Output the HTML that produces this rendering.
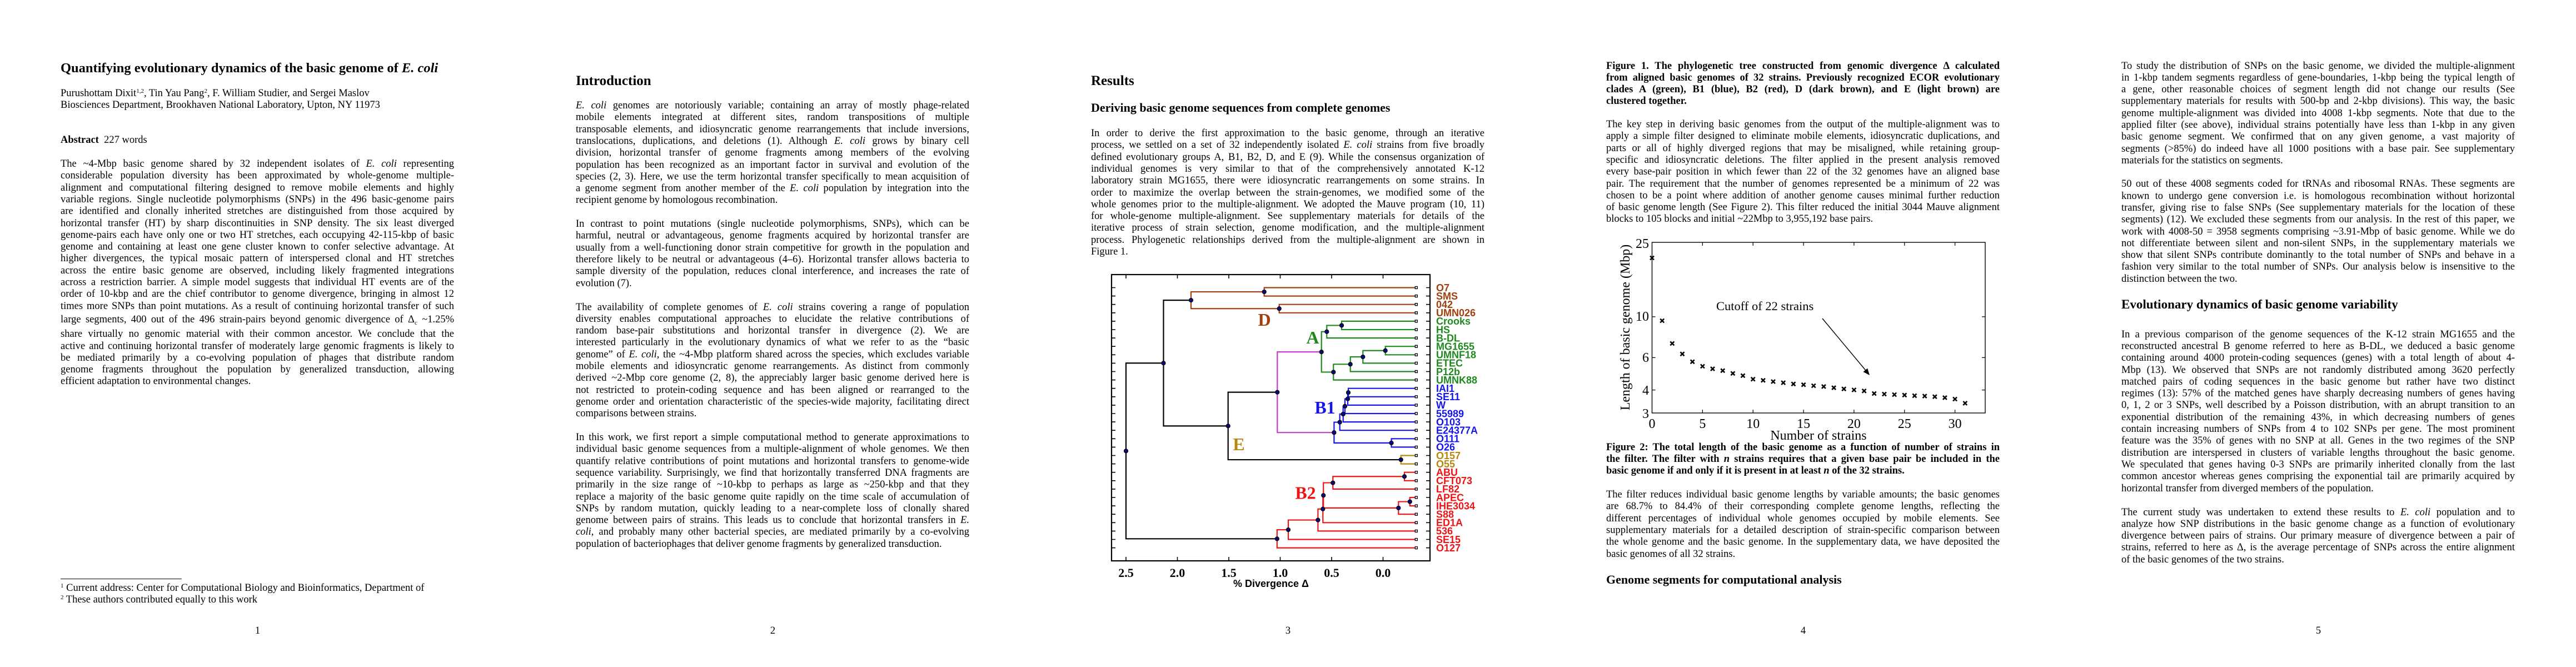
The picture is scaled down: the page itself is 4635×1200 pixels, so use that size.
<!DOCTYPE html>
<html><head><meta charset="utf-8"><style>
body{margin:0;width:4635px;height:1200px;position:relative;background:#fff;overflow:hidden;font-family:"Liberation Serif","DejaVu Serif",serif;color:#000}
.p{position:absolute;width:708px;font-size:18.5px;line-height:21.3px}
.p>div{height:21.3px;overflow:hidden;text-align:justify;text-align-last:justify}
.p>div.e{text-align-last:left;text-align:left}
.b{font-weight:bold}
.h{position:absolute;font-weight:bold;white-space:nowrap}
.pn{position:absolute;width:927px;text-align:center;font-size:18.5px;line-height:21.3px;top:1125px}
sup{font-size:11px;line-height:0;vertical-align:6px}
sub{font-size:11px;line-height:0;vertical-align:-4px}
svg{position:absolute;left:0;top:0}
</style></head><body>

<!-- PAGE 1 -->
<div class="h" style="left:109px;top:108.7px;font-size:24.5px;line-height:28px">Quantifying evolutionary dynamics of the basic genome of <i>E. coli</i></div>
<div class="p" style="left:109px;top:158.1px">
<div class="e">Purushottam Dixit<sup>1,2</sup>, Tin Yau Pang<sup>2</sup>, F. William Studier, and Sergei Maslov</div>
<div class="e">Biosciences Department, Brookhaven National Laboratory, Upton, NY 11973</div>
</div>
<div class="p" style="left:109px;top:242.1px"><div class="e"><b>Abstract</b>&nbsp; 227 words</div></div>
<div class="p" style="left:109px;top:285.1px">
<div>The ~4-Mbp basic genome shared by 32 independent isolates of <i>E. coli</i> representing</div>
<div>considerable population diversity has been approximated by whole-genome multiple-</div>
<div>alignment and computational filtering designed to remove mobile elements and highly</div>
<div>variable regions. Single nucleotide polymorphisms (SNPs) in the 496 basic-genome pairs</div>
<div>are identified and clonally inherited stretches are distinguished from those acquired by</div>
<div>horizontal transfer (HT) by sharp discontinuities in SNP density. The six least diverged</div>
<div>genome-pairs each have only one or two HT stretches, each occupying 42-115-kbp of basic</div>
<div>genome and containing at least one gene cluster known to confer selective advantage. At</div>
<div>higher divergences, the typical mosaic pattern of interspersed clonal and HT stretches</div>
<div>across the entire basic genome are observed, including likely fragmented integrations</div>
<div>across a restriction barrier. A simple model suggests that individual HT events are of the</div>
<div>order of 10-kbp and are the chief contributor to genome divergence, bringing in almost 12</div>
<div>times more SNPs than point mutations. As a result of continuing horizontal transfer of such</div>
<div style="margin-top:2.9px">large segments, 400 out of the 496 strain-pairs beyond genomic divergence of Δ<sub>c</sub> ~1.25%</div>
<div style="margin-top:5.1px">share virtually no genomic material with their common ancestor. We conclude that the</div>
<div>active and continuing horizontal transfer of moderately large genomic fragments is likely to</div>
<div>be mediated primarily by a co-evolving population of phages that distribute random</div>
<div>genome fragments throughout the population by generalized transduction, allowing</div>
<div class="e">efficient adaptation to environmental changes.</div>
</div>
<div style="position:absolute;left:109px;top:1041px;width:218px;height:1px;background:#000"></div>
<div class="p" style="left:109px;top:1048.1px">
<div class="e"><sup>1</sup> Current address: Center for Computational Biology and Bioinformatics, Department of</div>
<div class="e"><sup>2</sup> These authors contributed equally to this work</div>
</div>
<div class="pn" style="left:0">1</div>

<!-- PAGE 2 -->
<div class="h" style="left:1036px;top:130.6px;font-size:25px;line-height:30px">Introduction</div>
<div class="p" style="left:1036px;top:180.1px">
<div><i>E. coli</i> genomes are notoriously variable; containing an array of mostly phage-related</div>
<div>mobile elements integrated at different sites, random transpositions of multiple</div>
<div>transposable elements, and idiosyncratic genome rearrangements that include inversions,</div>
<div>translocations, duplications, and deletions (1). Although <i>E. coli</i> grows by binary cell</div>
<div>division, horizontal transfer of genome fragments among members of the evolving</div>
<div>population has been recognized as an important factor in survival and evolution of the</div>
<div>species (2, 3). Here, we use the term horizontal transfer specifically to mean acquisition of</div>
<div>a genome segment from another member of the <i>E. coli</i> population by integration into the</div>
<div class="e">recipient genome by homologous recombination.</div>
</div>
<div class="p" style="left:1036px;top:393.1px">
<div>In contrast to point mutations (single nucleotide polymorphisms, SNPs), which can be</div>
<div>harmful, neutral or advantageous, genome fragments acquired by horizontal transfer are</div>
<div>usually from a well-functioning donor strain competitive for growth in the population and</div>
<div>therefore likely to be neutral or advantageous (4–6). Horizontal transfer allows bacteria to</div>
<div>sample diversity of the population, reduces clonal interference, and increases the rate of</div>
<div class="e">evolution (7).</div>
</div>
<div class="p" style="left:1036px;top:542.6px">
<div>The availability of complete genomes of <i>E. coli</i> strains covering a range of population</div>
<div>diversity enables computational approaches to elucidate the relative contributions of</div>
<div>random base-pair substitutions and horizontal transfer in divergence (2). We are</div>
<div>interested particularly in the evolutionary dynamics of what we refer to as the “basic</div>
<div>genome” of <i>E. coli</i>, the ~4-Mbp platform shared across the species, which excludes variable</div>
<div>mobile elements and idiosyncratic genome rearrangements. As distinct from commonly</div>
<div>derived ~2-Mbp core genome (2, 8), the appreciably larger basic genome derived here is</div>
<div>not restricted to protein-coding sequence and has been aligned or rearranged to the</div>
<div>genome order and orientation characteristic of the species-wide majority, facilitating direct</div>
<div class="e">comparisons between strains.</div>
</div>
<div class="p" style="left:1036px;top:777.1px">
<div>In this work, we first report a simple computational method to generate approximations to</div>
<div>individual basic genome sequences from a multiple-alignment of whole genomes. We then</div>
<div>quantify relative contributions of point mutations and horizontal transfers to genome-wide</div>
<div>sequence variability. Surprisingly, we find that horizontally transferred DNA fragments are</div>
<div>primarily in the size range of ~10-kbp to perhaps as large as ~250-kbp and that they</div>
<div>replace a majority of the basic genome quite rapidly on the time scale of accumulation of</div>
<div>SNPs by random mutation, quickly leading to a near-complete loss of clonally shared</div>
<div>genome between pairs of strains. This leads us to conclude that horizontal transfers in <i>E.</i></div>
<div><i>coli</i>, and probably many other bacterial species, are mediated primarily by a co-evolving</div>
<div class="e">population of bacteriophages that deliver genome fragments by generalized transduction.</div>
</div>
<div class="pn" style="left:927px">2</div>

<!-- PAGE 3 -->
<div class="h" style="left:1963px;top:130.6px;font-size:25px;line-height:30px">Results</div>
<div class="h" style="left:1963px;top:180.6px;font-size:22px;line-height:26px">Deriving basic genome sequences from complete genomes</div>
<div class="p" style="left:1963px;top:230.1px">
<div>In order to derive the first approximation to the basic genome, through an iterative</div>
<div>process, we settled on a set of 32 independently isolated <i>E. coli</i> strains from five broadly</div>
<div>defined evolutionary groups A, B1, B2, D, and E (9). While the consensus organization of</div>
<div>individual genomes is very similar to that of the comprehensively annotated K-12</div>
<div>laboratory strain MG1655, there were idiosyncratic rearrangements on some strains. In</div>
<div>order to maximize the overlap between the strain-genomes, we modified some of the</div>
<div>whole genomes prior to the multiple-alignment. We adopted the Mauve program (10, 11)</div>
<div>for whole-genome multiple-alignment. See supplementary materials for details of the</div>
<div>iterative process of strain selection, genome modification, and the multiple-alignment</div>
<div>process. Phylogenetic relationships derived from the multiple-alignment are shown in</div>
<div class="e">Figure 1.</div>
</div>
<div class="pn" style="left:1854px">3</div>

<!-- PAGE 4 -->
<div class="p b" style="left:2890px;top:108.6px">
<div>Figure 1. The phylogenetic tree constructed from genomic divergence Δ calculated</div>
<div>from aligned basic genomes of 32 strains. Previously recognized ECOR evolutionary</div>
<div>clades A (green), B1 (blue), B2 (red), D (dark brown), and E (light brown) are</div>
<div class="e">clustered together.</div>
</div>
<div class="p" style="left:2890px;top:214.1px">
<div>The key step in deriving basic genomes from the output of the multiple-alignment was to</div>
<div>apply a simple filter designed to eliminate mobile elements, idiosyncratic duplications, and</div>
<div>parts or all of highly diverged regions that may be misaligned, while retaining group-</div>
<div>specific and idiosyncratic deletions. The filter applied in the present analysis removed</div>
<div>every base-pair position in which fewer than 22 of the 32 genomes have an aligned base</div>
<div>pair. The requirement that the number of genomes represented be a minimum of 22 was</div>
<div>chosen to be a point where addition of another genome causes minimal further reduction</div>
<div>of basic genome length (See Figure 2). This filter reduced the initial 3044 Mauve alignment</div>
<div class="e">blocks to 105 blocks and initial ~22Mbp to 3,955,192 base pairs.</div>
</div>
<div class="p b" style="left:2890px;top:794.6px">
<div>Figure 2: The total length of the basic genome as a function of number of strains in</div>
<div>the filter. The filter with <i>n</i> strains requires that a given base pair be included in the</div>
<div class="e">basic genome if and only if it is present in at least <i>n</i> of the 32 strains.</div>
</div>
<div class="p" style="left:2890px;top:880.1px">
<div>The filter reduces individual basic genome lengths by variable amounts; the basic genomes</div>
<div>are 68.7% to 84.4% of their corresponding complete genome lengths, reflecting the</div>
<div>different percentages of individual whole genomes occupied by mobile elements. See</div>
<div>supplementary materials for a detailed description of strain-specific comparison between</div>
<div>the whole genome and the basic genome. In the supplementary data, we have deposited the</div>
<div class="e">basic genomes of all 32 strains.</div>
</div>
<div class="h" style="left:2890px;top:1029.6px;font-size:22px;line-height:26px">Genome segments for computational analysis</div>
<div class="pn" style="left:2781px">4</div>

<!-- PAGE 5 -->
<div class="p" style="left:3817px;top:108.6px">
<div>To study the distribution of SNPs on the basic genome, we divided the multiple-alignment</div>
<div>in 1-kbp tandem segments regardless of gene-boundaries, 1-kbp being the typical length of</div>
<div>a gene, other reasonable choices of segment length did not change our results (See</div>
<div>supplementary materials for results with 500-bp and 2-kbp divisions). This way, the basic</div>
<div>genome multiple-alignment was divided into 4008 1-kbp segments. Note that due to the</div>
<div>applied filter (see above), individual strains potentially have less than 1-kbp in any given</div>
<div>basic genome segment. We confirmed that on any given genome, a vast majority of</div>
<div>segments (&gt;85%) do indeed have all 1000 positions with a base pair. See supplementary</div>
<div class="e">materials for the statistics on segments.</div>
</div>
<div class="p" style="left:3817px;top:321.4px">
<div>50 out of these 4008 segments coded for tRNAs and ribosomal RNAs. These segments are</div>
<div>known to undergo gene conversion i.e. is homologous recombination without horizontal</div>
<div>transfer, giving rise to false SNPs (See supplementary materials for the location of these</div>
<div>segments) (12). We excluded these segments from our analysis. In the rest of this paper, we</div>
<div>work with 4008-50 = 3958 segments comprising ~3.91-Mbp of basic genome. While we do</div>
<div>not differentiate between silent and non-silent SNPs, in the supplementary materials we</div>
<div>show that silent SNPs contribute dominantly to the total number of SNPs and behave in a</div>
<div>fashion very similar to the total number of SNPs. Our analysis below is insensitive to the</div>
<div class="e">distinction between the two.</div>
</div>
<div class="h" style="left:3817px;top:533.7px;font-size:23px;line-height:27px">Evolutionary dynamics of basic genome variability</div>
<div class="p" style="left:3817px;top:591.7px">
<div>In a previous comparison of the genome sequences of the K-12 strain MG1655 and the</div>
<div>reconstructed ancestral B genome referred to here as B-DL, we deduced a basic genome</div>
<div>containing around 4000 protein-coding sequences (genes) with a total length of about 4-</div>
<div>Mbp (13). We observed that SNPs are not randomly distributed among 3620 perfectly</div>
<div>matched pairs of coding sequences in the basic genome but rather have two distinct</div>
<div>regimes (13): 57% of the matched genes have sharply decreasing numbers of genes having</div>
<div>0, 1, 2 or 3 SNPs, well described by a Poisson distribution, with an abrupt transition to an</div>
<div>exponential distribution of the remaining 43%, in which decreasing numbers of genes</div>
<div>contain increasing numbers of SNPs from 4 to 102 SNPs per gene. The most prominent</div>
<div>feature was the 35% of genes with no SNP at all. Genes in the two regimes of the SNP</div>
<div>distribution are interspersed in clusters of variable lengths throughout the basic genome.</div>
<div>We speculated that genes having 0-3 SNPs are primarily inherited clonally from the last</div>
<div>common ancestor whereas genes comprising the exponential tail are primarily acquired by</div>
<div class="e">horizontal transfer from diverged members of the population.</div>
</div>
<div class="p" style="left:3817px;top:911.5px">
<div>The current study was undertaken to extend these results to <i>E. coli</i> population and to</div>
<div>analyze how SNP distributions in the basic genome change as a function of evolutionary</div>
<div>divergence between pairs of strains. Our primary measure of divergence between a pair of</div>
<div>strains, referred to here as Δ, is the average percentage of SNPs across the entire alignment</div>
<div class="e">of the basic genomes of the two strains.</div>
</div>
<div class="pn" style="left:3708px">5</div>

<svg width="4635" height="1200" viewBox="0 0 4635 1200" xmlns="http://www.w3.org/2000/svg">
<!-- FIGURE 1 tree -->
<g fill="none" stroke-width="2.2" stroke-linecap="square">
<path stroke="#000" d="M2026 653.25V969.32M2026 653.25H2093.5M2026 969.32H2297.8M2093.5 540.15V766.4M2093.5 540.15H2143M2093.5 766.4H2209.7M2209.7 705.66V827.05M2209.7 705.66H2298.3M2209.7 827.05H2520.7"/>
<path stroke="#a0400e" d="M2143 525.05V555.25M2143 525.05H2274.7M2143 555.25H2301.7M2274.7 517.5V532.6M2274.7 517.5H2548.3M2274.7 532.6H2548.3M2301.7 547.7V562.8M2301.7 547.7H2548.3M2301.7 562.8H2548.3"/>
<path stroke="#c83cc8" d="M2298.3 633.1V778.21M2298.3 633.1H2377.7M2298.3 778.21H2400.4"/>
<path stroke="#1e8a1e" d="M2377.7 596.78V669.44M2377.7 596.78H2387.3M2377.7 669.44H2399.3M2387.3 585.45V608.1M2387.3 585.45H2414M2387.3 608.1H2548.3M2414 577.9V593M2414 577.9H2548.3M2414 593H2548.3M2399.3 655.29V683.6M2399.3 655.29H2429.7M2399.3 683.6H2548.3M2429.7 642.08V668.5M2429.7 642.08H2452.3M2429.7 668.5H2548.3M2452.3 630.75V653.4M2452.3 630.75H2492.7M2452.3 653.4H2548.3M2492.7 623.2V638.3M2492.7 623.2H2548.3M2492.7 638.3H2548.3"/>
<path stroke="#1414ee" d="M2400.4 759.57V796.85M2400.4 759.57H2410.7M2400.4 796.85H2503.5M2410.7 744.94V774.2M2410.7 744.94H2416.7M2410.7 774.2H2548.3M2416.7 730.79V759.1M2416.7 730.79H2420M2416.7 759.1H2548.3M2420 717.58V744M2420 717.58H2425M2420 744H2548.3M2425 706.25V728.9M2425 706.25H2426M2425 728.9H2548.3M2426 698.7V713.8M2426 698.7H2548.3M2426 713.8H2548.3M2503.5 789.3V804.4M2503.5 789.3H2548.3M2503.5 804.4H2548.3"/>
<path stroke="#b8860b" d="M2520.7 819.5V834.6M2520.7 819.5H2548.3M2520.7 834.6H2548.3"/>
<path stroke="#ee1414" d="M2297.8 953.04V985.6M2297.8 953.04H2318M2297.8 985.6H2548.3M2318 935.58V970.5M2318 935.58H2371.4M2318 970.5H2548.3M2371.4 915.76V955.4M2371.4 915.76H2380.3M2371.4 955.4H2548.3M2380.3 891.23V940.3M2380.3 891.23H2381.2M2380.3 940.3H2548.3M2381.2 868.58V913.88M2381.2 868.58H2398.3M2381.2 913.88H2516.3M2398.3 857.25V879.9M2398.3 857.25H2527M2398.3 879.9H2548.3M2527 849.7V864.8M2527 849.7H2548.3M2527 864.8H2548.3M2516.3 902.55V925.2M2516.3 902.55H2536.8M2516.3 925.2H2548.3M2536.8 895V910.1M2536.8 895H2548.3M2536.8 910.1H2548.3"/>
</g>
<g fill="#0a0a6e" stroke="#000" stroke-width="1">
<circle cx="2026" cy="811.3" r="3.6"/><circle cx="2093.5" cy="653.25" r="3.6"/><circle cx="2143" cy="540.15" r="3.6"/><circle cx="2274.7" cy="525.05" r="3.6"/><circle cx="2301.7" cy="555.25" r="3.6"/><circle cx="2209.7" cy="766.4" r="3.6"/><circle cx="2298.3" cy="705.66" r="3.6"/><circle cx="2520.7" cy="827.05" r="3.6"/><circle cx="2377.7" cy="633.1" r="3.6"/><circle cx="2387.3" cy="596.78" r="3.6"/><circle cx="2414" cy="585.45" r="3.6"/><circle cx="2399.3" cy="669.44" r="3.6"/><circle cx="2429.7" cy="655.29" r="3.6"/><circle cx="2452.3" cy="642.08" r="3.6"/><circle cx="2492.7" cy="630.75" r="3.6"/><circle cx="2400.4" cy="778.21" r="3.6"/><circle cx="2410.7" cy="759.57" r="3.6"/><circle cx="2416.7" cy="744.94" r="3.6"/><circle cx="2420" cy="730.79" r="3.6"/><circle cx="2425" cy="717.58" r="3.6"/><circle cx="2426" cy="706.25" r="3.6"/><circle cx="2503.5" cy="796.85" r="3.6"/><circle cx="2297.8" cy="969.32" r="3.6"/><circle cx="2318" cy="953.04" r="3.6"/><circle cx="2371.4" cy="935.58" r="3.6"/><circle cx="2380.3" cy="915.76" r="3.6"/><circle cx="2381.2" cy="891.23" r="3.6"/><circle cx="2398.3" cy="868.58" r="3.6"/><circle cx="2527" cy="857.25" r="3.6"/><circle cx="2516.3" cy="913.88" r="3.6"/><circle cx="2536.8" cy="902.55" r="3.6"/>
</g>
<g fill="#fff" stroke="#000" stroke-width="1.3">
<rect x="2546.3" y="515.5" width="4" height="4"/><rect x="2546.3" y="530.6" width="4" height="4"/><rect x="2546.3" y="545.7" width="4" height="4"/><rect x="2546.3" y="560.8" width="4" height="4"/><rect x="2546.3" y="575.9" width="4" height="4"/><rect x="2546.3" y="591" width="4" height="4"/><rect x="2546.3" y="606.1" width="4" height="4"/><rect x="2546.3" y="621.2" width="4" height="4"/><rect x="2546.3" y="636.3" width="4" height="4"/><rect x="2546.3" y="651.4" width="4" height="4"/><rect x="2546.3" y="666.5" width="4" height="4"/><rect x="2546.3" y="681.6" width="4" height="4"/><rect x="2546.3" y="696.7" width="4" height="4"/><rect x="2546.3" y="711.8" width="4" height="4"/><rect x="2546.3" y="726.9" width="4" height="4"/><rect x="2546.3" y="742" width="4" height="4"/><rect x="2546.3" y="757.1" width="4" height="4"/><rect x="2546.3" y="772.2" width="4" height="4"/><rect x="2546.3" y="787.3" width="4" height="4"/><rect x="2546.3" y="802.4" width="4" height="4"/><rect x="2546.3" y="817.5" width="4" height="4"/><rect x="2546.3" y="832.6" width="4" height="4"/><rect x="2546.3" y="847.7" width="4" height="4"/><rect x="2546.3" y="862.8" width="4" height="4"/><rect x="2546.3" y="877.9" width="4" height="4"/><rect x="2546.3" y="893" width="4" height="4"/><rect x="2546.3" y="908.1" width="4" height="4"/><rect x="2546.3" y="923.2" width="4" height="4"/><rect x="2546.3" y="938.3" width="4" height="4"/><rect x="2546.3" y="953.4" width="4" height="4"/><rect x="2546.3" y="968.5" width="4" height="4"/><rect x="2546.3" y="983.6" width="4" height="4"/>
</g>
<rect x="2000" y="494" width="573" height="515" fill="none" stroke="#000" stroke-width="2.2"/>
<path fill="none" stroke="#000" stroke-width="1.6" d="M2000 517.5h7M2566 517.5h7M2000 532.6h7M2566 532.6h7M2000 547.7h7M2566 547.7h7M2000 562.8h7M2566 562.8h7M2000 577.9h7M2566 577.9h7M2000 593h7M2566 593h7M2000 608.1h7M2566 608.1h7M2000 623.2h7M2566 623.2h7M2000 638.3h7M2566 638.3h7M2000 653.4h7M2566 653.4h7M2000 668.5h7M2566 668.5h7M2000 683.6h7M2566 683.6h7M2000 698.7h7M2566 698.7h7M2000 713.8h7M2566 713.8h7M2000 728.9h7M2566 728.9h7M2000 744h7M2566 744h7M2000 759.1h7M2566 759.1h7M2000 774.2h7M2566 774.2h7M2000 789.3h7M2566 789.3h7M2000 804.4h7M2566 804.4h7M2000 819.5h7M2566 819.5h7M2000 834.6h7M2566 834.6h7M2000 849.7h7M2566 849.7h7M2000 864.8h7M2566 864.8h7M2000 879.9h7M2566 879.9h7M2000 895h7M2566 895h7M2000 910.1h7M2566 910.1h7M2000 925.2h7M2566 925.2h7M2000 940.3h7M2566 940.3h7M2000 955.4h7M2566 955.4h7M2000 970.5h7M2566 970.5h7M2000 985.6h7M2566 985.6h7M2026 494v7M2026 1009v-7M2118.5 494v7M2118.5 1009v-7M2211 494v7M2211 1009v-7M2303.5 494v7M2303.5 1009v-7M2396 494v7M2396 1009v-7M2488.5 494v7M2488.5 1009v-7"/>
<g font-family="'Liberation Sans',sans-serif" font-weight="bold" font-size="18">
<g fill="#a0400e"><text x="2584" y="523.8">O7</text><text x="2584" y="538.9">SMS</text><text x="2584" y="554">042</text><text x="2584" y="569.1">UMN026</text></g>
<g fill="#1e8a1e"><text x="2584" y="584.2">Crooks</text><text x="2584" y="599.3">HS</text><text x="2584" y="614.4">B-DL</text><text x="2584" y="629.5">MG1655</text><text x="2584" y="644.6">UMNF18</text><text x="2584" y="659.7">ETEC</text><text x="2584" y="674.8">P12b</text><text x="2584" y="689.9">UMNK88</text></g>
<g fill="#1414ee"><text x="2584" y="705">IAI1</text><text x="2584" y="720.1">SE11</text><text x="2584" y="735.2">W</text><text x="2584" y="750.3">55989</text><text x="2584" y="765.4">O103</text><text x="2584" y="780.5">E24377A</text><text x="2584" y="795.6">O111</text><text x="2584" y="810.7">O26</text></g>
<g fill="#b8860b"><text x="2584" y="825.8">O157</text><text x="2584" y="840.9">O55</text></g>
<g fill="#ee1414"><text x="2584" y="856">ABU</text><text x="2584" y="871.1">CFT073</text><text x="2584" y="886.2">LF82</text><text x="2584" y="901.3">APEC</text><text x="2584" y="916.4">IHE3034</text><text x="2584" y="931.5">S88</text><text x="2584" y="946.6">ED1A</text><text x="2584" y="961.7">536</text><text x="2584" y="976.8">SE15</text><text x="2584" y="991.9">O127</text></g>
<text x="2287" y="1056" fill="#000" text-anchor="middle">% Divergence Δ</text>
</g>
<g font-family="'Liberation Serif',serif" font-weight="bold" font-size="32">
<text x="2275" y="586" fill="#a0400e" text-anchor="middle">D</text>
<text x="2362" y="618" fill="#1e8a1e" text-anchor="middle">A</text>
<text x="2384" y="744" fill="#1414ee" text-anchor="middle">B1</text>
<text x="2229" y="810" fill="#b8860b" text-anchor="middle">E</text>
<text x="2349" y="897.5" fill="#ee1414" text-anchor="middle">B2</text>
</g>
<g font-family="'Liberation Serif',serif" font-weight="bold" font-size="22" text-anchor="middle">
<text x="2026" y="1038">2.5</text><text x="2118.5" y="1038">2.0</text><text x="2211" y="1038">1.5</text><text x="2303.5" y="1038">1.0</text><text x="2396" y="1038">0.5</text><text x="2488.5" y="1038">0.0</text>
</g>

<!-- FIGURE 2 -->
<rect x="2972.5" y="436" width="599.5" height="307" fill="none" stroke="#000" stroke-width="1.4"/>
<path fill="none" stroke="#000" stroke-width="1.2" d="M3063.4 743v-6M3063.4 436v6M3154.2 743v-6M3154.2 436v6M3245.1 743v-6M3245.1 436v6M3335.9 743v-6M3335.9 436v6M3426.8 743v-6M3426.8 436v6M3517.6 743v-6M3517.6 436v6M2972.5 569.9h6M3572 569.9h-6M2972.5 643.4h6M3572 643.4h-6M2972.5 701.6h6M3572 701.6h-6"/>
<path fill="none" stroke="#000" stroke-width="2.6" d="M2969 460.5l7 7m0-7l-7 7M2987.2 573.5l7 7m0-7l-7 7M3005.3 614.4l7 7m0-7l-7 7M3023.5 633.3l7 7m0-7l-7 7M3041.7 647.3l7 7m0-7l-7 7M3059.9 655.5l7 7m0-7l-7 7M3078 660.1l7 7m0-7l-7 7M3096.2 663.3l7 7m0-7l-7 7M3114.4 668.3l7 7m0-7l-7 7M3132.5 672.3l7 7m0-7l-7 7M3150.7 678.7l7 7m0-7l-7 7M3168.9 680.8l7 7m0-7l-7 7M3187 683l7 7m0-7l-7 7M3205.2 685.1l7 7m0-7l-7 7M3223.4 687.3l7 7m0-7l-7 7M3241.6 688.7l7 7m0-7l-7 7M3259.7 690.5l7 7m0-7l-7 7M3277.9 691.9l7 7m0-7l-7 7M3296.1 694.1l7 7m0-7l-7 7M3314.2 696.2l7 7m0-7l-7 7M3332.4 698l7 7m0-7l-7 7M3350.6 699.8l7 7m0-7l-7 7M3368.7 704.5l7 7m0-7l-7 7M3386.9 705.5l7 7m0-7l-7 7M3405.1 706.5l7 7m0-7l-7 7M3423.3 707.3l7 7m0-7l-7 7M3441.4 708.4l7 7m0-7l-7 7M3459.6 709.1l7 7m0-7l-7 7M3477.8 710.2l7 7m0-7l-7 7M3495.9 711.9l7 7m0-7l-7 7M3514.1 714.5l7 7m0-7l-7 7M3532.3 721.9l7 7m0-7l-7 7"/>
<path d="M3279 573L3360 670" stroke="#000" stroke-width="1.4" fill="none"/>
<path d="M3364 675L3352.5 669L3360.1 662.6Z" fill="#000"/>
<g font-family="'Liberation Serif',serif" font-size="24" fill="#000">
<g text-anchor="middle"><text x="2972.5" y="770">0</text><text x="3063.4" y="770">5</text><text x="3154.2" y="770">10</text><text x="3245.1" y="770">15</text><text x="3335.9" y="770">20</text><text x="3426.8" y="770">25</text><text x="3517.6" y="770">30</text>
<text x="3272" y="791">Number of strains</text>
<text transform="translate(2932,589) rotate(-90)">Length of basic genome (Mbp)</text></g>
<g text-anchor="end"><text x="2967" y="446">25</text><text x="2967" y="577">10</text><text x="2967" y="651">6</text><text x="2967" y="710">4</text><text x="2967" y="752">3</text></g>
<text x="3088" y="558" font-size="22.5">Cutoff of 22 strains</text>
</g>
</svg>
</body></html>
